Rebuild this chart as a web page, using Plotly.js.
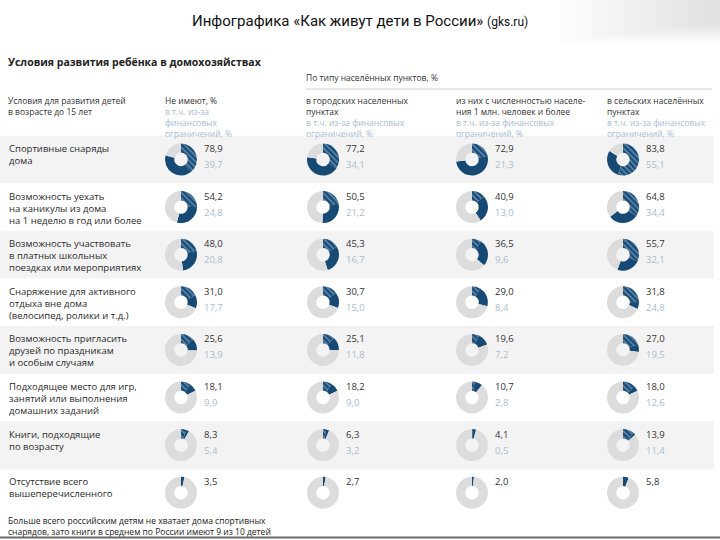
<!DOCTYPE html>
<html><head><meta charset="utf-8">
<script src="https://cdn.plot.ly/plotly-3.0.1.min.js"></script>
<style>html,body{margin:0;padding:0;background:#fff}#chart{width:720px;height:540px}</style>
</head><body><div id="chart"></div>
<script>
const categories = [
  "Спортивные снаряды<br>дома",
  "Возможность уехать<br>на каникулы из дома<br>на 1 неделю в год или более",
  "Возможность участвовать<br>в платных школьных<br>поездках или мероприятиях",
  "Снаряжение для активного<br>отдыха вне дома<br>(велосипед, ролики и т.д.)",
  "Возможность пригласить<br>друзей по праздникам<br>и особым случаям",
  "Подходящее место для игр,<br>занятий или выполнения<br>домашних заданий",
  "Книги, подходящие<br>по возрасту",
  "Отсутствие всего<br>вышеперечисленного"
];
const totalAll     = [78.9, 54.2, 48.0, 31.0, 25.6, 18.1, 8.3, 3.5];
const finAll       = [39.7, 24.8, 20.8, 17.7, 13.9, 9.9, 5.4, null];
const totalUrban   = [77.2, 50.5, 45.3, 30.7, 25.1, 18.2, 6.3, 2.7];
const finUrban     = [34.1, 21.2, 16.7, 15.0, 11.8, 9.0, 3.2, null];
const totalMillion = [72.9, 40.9, 36.5, 29.0, 19.6, 10.7, 4.1, 2.0];
const finMillion   = [21.3, 13.0, 9.6, 8.4, 7.2, 2.8, 0.5, null];
const totalRural   = [83.8, 64.8, 55.7, 31.8, 27.0, 18.0, 13.9, 5.8];
const finRural     = [55.1, 34.4, 32.1, 24.8, 19.5, 12.6, 11.4, null];

const columnHeaders = [
  ["Не имеют, %"],
  ["в городских населенных", "пунктах"],
  ["из них с численностью населе-", "ния 1 млн. человек и более"],
  ["в сельских населённых", "пунктах"]
];
const columnSubHeaders = [
  ["в т.ч. из-за", "финансовых", "ограничений, %"],
  ["в т.ч. из-за финансовых", "ограничений, %"],
  ["в т.ч. из-за финансовых", "ограничений, %"],
  ["в т.ч. из-за финансовых", "ограничений, %"]
];

const columns = [
  {total: totalAll, fin: finAll},
  {total: totalUrban, fin: finUrban},
  {total: totalMillion, fin: finMillion},
  {total: totalRural, fin: finRural}
];

const W = 720, H = 540;
const px = x => x / W;
const py = y => 1 - y / H;
const FONT = "Open Sans, Noto Sans, sans-serif";
const DARK = "#164a75";
const RING = "#dcdcdc";
const LB = '#a8bdd0';
const colX = [181, 323, 472, 623];
const headX = [164, 305, 455, 606];
const row0 = 159.5, rowStep = 47.6, R = 16;
const fmt = v => v.toFixed(1).replace('.', ',');

const traces = [];
const shapes = [];
const annotations = [];

const line = (x, y, text, size, color, bold) => annotations.push({xref: 'paper', yref: 'paper', x: px(x), y: py(y),
  xanchor: 'left', yanchor: 'middle', align: 'left', showarrow: false, borderpad: 0,
  text: bold ? '<b>' + text + '</b>' : text, font: {family: FONT, size: size, color: color}});
const block = (x, yTop, text, size, color) => annotations.push({xref: 'paper', yref: 'paper', x: px(x), y: py(yTop),
  xanchor: 'left', yanchor: 'top', align: 'left', showarrow: false, borderpad: 0,
  text: text, font: {family: FONT, size: size, color: color}});

// top-right slide shading
for (let i = 0; i < 10; i++) {
  shapes.push({type: 'rect', xref: 'paper', yref: 'paper', x0: px(560 + i * 16), x1: 1, y0: py(42 - i * 2), y1: 1,
    fillcolor: '#888', opacity: 0.022, line: {width: 0}, layer: 'below'});
}

// row backgrounds + labels
categories.forEach((c, i) => {
  const cy = row0 + i * rowStep;
  if (i % 2 === 0) {
    shapes.push({type: 'rect', xref: 'paper', yref: 'paper', x0: 0, x1: px(714),
      y0: py(cy + rowStep / 2), y1: py(cy - rowStep / 2), fillcolor: '#f3f3f3', line: {width: 0}, layer: 'below'});
  }
  c.split('<br>').forEach((t, k) => line(8, cy - 11 + k * 12, t, 9.5, '#2b2b2b', false));
});

columns.forEach((col, j) => {
  col.total.forEach((t, i) => {
    const cy = row0 + i * rowStep, cx = colX[j];
    const f = col.fin[i] == null ? 0 : col.fin[i];
    traces.push({
      type: 'pie', values: [f, t - f, 100 - t], sort: false, direction: 'clockwise', rotation: 0,
      hole: 0.42, textinfo: 'none', hoverinfo: 'skip', showlegend: false,
      domain: {x: [px(cx - R), px(cx + R)], y: [py(cy + R), py(cy - R)]},
      marker: {colors: [DARK, DARK, RING], line: {width: 0},
        pattern: {shape: ['\\', '', ''], fgcolor: '#a9c6e0', bgcolor: DARK, size: 4, solidity: 0.4, fillmode: 'overlay'}}
    });
    line(cx + 22, cy - 11, fmt(t), 9.5, '#333', false);
    if (col.fin[i] != null) line(cx + 22, cy + 5, fmt(col.fin[i]), 9.5, LB, false);
  });
});

// headers
const HF = 8.5;
line(7, 62, 'Условия развития ребёнка в домохозяйствах', 10.5, '#222', true);
line(305, 77, 'По типу населённых пунктов, %', 8.5, '#333', false);
shapes.push({type: 'line', xref: 'paper', yref: 'paper', x0: px(306), x1: px(712), y0: py(89), y1: py(89), line: {color: '#cfcfcf', width: 1}});
block(7, 94, 'Условия для развития детей<br>в возрасте до 15 лет', HF, '#333');
columnHeaders.forEach((h, j) => {
  const txt = h.join('<br>') + '<br>' + '<span style="color:' + LB + '">' + columnSubHeaders[j].join('<br>') + '</span>';
  block(headX[j], 94, txt, HF, '#333');
});

// footnote
block(7, 514, 'Больше всего российским детям не хватает дома спортивных<br>снарядов, зато книги в среднем по России имеют 9 из 10 детей', 8.5, '#222');
shapes.push({type: 'line', xref: 'paper', yref: 'paper', x0: 0, x1: 1, y0: py(537.5), y1: py(537.5), line: {color: '#6d6d6d', width: 2}});

// title
annotations.push({xref: 'paper', yref: 'paper', x: 0.5, y: py(21), xanchor: 'center', yanchor: 'middle', showarrow: false,
  text: 'Инфографика «Как живут дети в России» <span style="font-size:12px">(gks.ru)</span>',
  font: {family: 'Liberation Sans Narrow, Arial Narrow, Roboto, sans-serif', size: 15, color: '#111'}});

const layout = {
  width: W, height: H, margin: {l: 0, r: 0, t: 0, b: 0},
  paper_bgcolor: '#fff', plot_bgcolor: '#fff', showlegend: false,
  shapes: shapes, annotations: annotations
};
Plotly.newPlot('chart', traces, layout, {staticPlot: true, displayModeBar: false});
</script></body></html>
